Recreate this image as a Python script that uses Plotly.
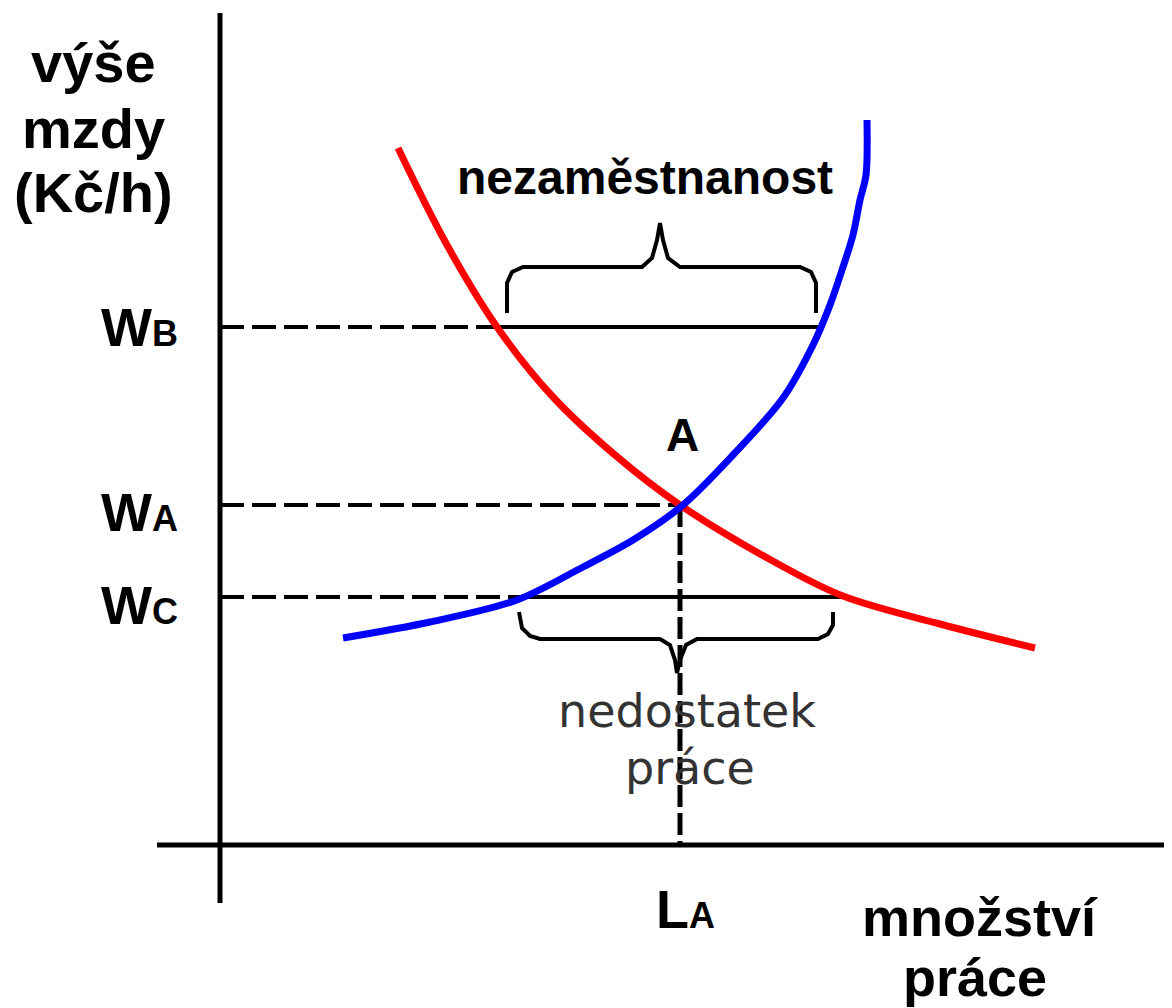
import plotly.graph_objects as go

# ---- data (x = quantity of labour, y = wage level), arbitrary units ----
demand_x = [1.78, 2.27, 2.77, 3.33, 3.95, 4.60, 5.60, 6.23, 7.20, 8.15]
demand_y = [6.97, 6.00, 5.18, 4.48, 3.90, 3.40, 2.80, 2.49, 2.21, 1.97]

supply_x = [1.23, 2.10, 2.97, 3.63, 4.13, 4.63, 5.13, 5.63, 5.93, 6.10, 6.22, 6.33, 6.40, 6.46, 6.47]
supply_y = [2.07, 2.23, 2.45, 2.78, 3.05, 3.40, 3.90, 4.47, 5.00, 5.40, 5.75, 6.10, 6.45, 6.70, 7.25]

wage_levels = {"WB": 5.18, "WA": 3.40, "WC": 2.48}
label_y = {"WB": 5.18, "WA": 3.33, "WC": 2.40}
L_A = 4.60

# where the wage lines meet the curves
wb_demand_x, wb_supply_x = 2.77, 6.03
wc_supply_x, wc_demand_x = 2.93, 6.23

# axes extents
y_axis_x = [0, 0]
y_axis_y = [-0.58, 8.32]
x_axis_x = [-0.63, 9.60]
x_axis_y = [0, 0]

# braces
brace_top_x = [2.87, 2.87, 2.92, 3.03, 4.22, 4.32, 4.37, 4.40, 4.43, 4.48, 4.60, 5.80, 5.91, 5.96, 5.96]
brace_top_y = [5.32, 5.62, 5.73, 5.78, 5.78, 5.87, 6.05, 6.22, 6.05, 5.87, 5.78, 5.78, 5.73, 5.62, 5.32]
brace_bot_x = [2.99, 3.02, 3.10, 3.20, 4.40, 4.50, 4.55, 4.57, 4.60, 4.66, 4.77, 5.98, 6.08, 6.13, 6.13]
brace_bot_y = [2.33, 2.17, 2.09, 2.06, 2.06, 2.00, 1.85, 1.72, 1.85, 2.00, 2.06, 2.06, 2.11, 2.20, 2.33]

fig = go.Figure()

def line(x, y, color="black", width=4, dash=None):
    fig.add_trace(go.Scatter(x=x, y=y, mode="lines", hoverinfo="skip", showlegend=False,
                             line=dict(color=color, width=width, dash=dash)))

# axes
line(y_axis_x, y_axis_y, width=5)
line(x_axis_x, x_axis_y, width=5)

DASH = "24px,8px"
# wage lines
line([0, wb_demand_x], [wage_levels["WB"]] * 2, width=4, dash=DASH)
line([wb_demand_x, wb_supply_x], [wage_levels["WB"]] * 2, width=4)
line([0, L_A], [wage_levels["WA"]] * 2, width=4, dash=DASH)
line([0, wc_supply_x], [wage_levels["WC"]] * 2, width=4, dash=DASH)
line([wc_supply_x, wc_demand_x], [wage_levels["WC"]] * 2, width=4)
# vertical at L_A
line([L_A, L_A], [wage_levels["WA"], 0], width=5, dash="22px,6px")

# braces
line(brace_top_x, brace_top_y, width=4)
line(brace_bot_x, brace_bot_y, width=4)

# curves
fig.add_trace(go.Scatter(x=demand_x, y=demand_y, mode="lines", hoverinfo="skip", showlegend=False,
                         line=dict(color="#ff0000", width=7, shape="spline", smoothing=1.0)))
fig.add_trace(go.Scatter(x=supply_x, y=supply_y, mode="lines", hoverinfo="skip", showlegend=False,
                         line=dict(color="#0000ff", width=7, shape="spline", smoothing=0.9)))

BOLD = dict(family="Liberation Sans", size=56, color="black", weight="bold")

def text(x, y, t, font, xanchor="center"):
    fig.add_annotation(x=x, y=y, text=t, showarrow=False, xanchor=xanchor, yanchor="middle",
                       font=font, xref="x", yref="y")

text(-1.27, 7.83, "výše", BOLD)
text(-1.27, 7.17, "mzdy", BOLD)
text(-1.27, 6.53, "(Kč/h)", BOLD)

wfont = dict(family="Liberation Sans", size=54, color="black", weight="bold")
for k in ["WB", "WA", "WC"]:
    text(-0.40, label_y[k], "W<span style='font-size:36px'>%s</span>" % k[1], wfont, xanchor="right")

text(4.62, 4.10, "A", dict(family="Liberation Sans", size=46, color="black", weight="bold"))
text(4.25, 6.68, "nezaměstnanost", dict(family="Liberation Sans", size=48, color="black", weight="bold"))

reg = dict(family="DejaVu Sans", size=46, color="#333333")
text(4.67, 1.34, "nedostatek", reg)
text(4.70, 0.77, "práce", reg)

text(4.65, -0.64, "L<span style='font-size:36px'>A</span>", wfont)
text(7.60, -0.72, "množství", wfont)
text(7.55, -1.32, "práce", wfont)

# the page adds an 8px body margin, so the ranges are offset by 8px
fig.update_layout(
    width=1172, height=1008,
    margin=dict(l=0, r=0, t=0, b=0),
    paper_bgcolor="white", plot_bgcolor="white",
    xaxis=dict(range=[-2.12, 9.60], visible=False, fixedrange=True),
    yaxis=dict(range=[-1.71, 8.37], visible=False, fixedrange=True),
    showlegend=False,
)

fig.write_html("out.html")
